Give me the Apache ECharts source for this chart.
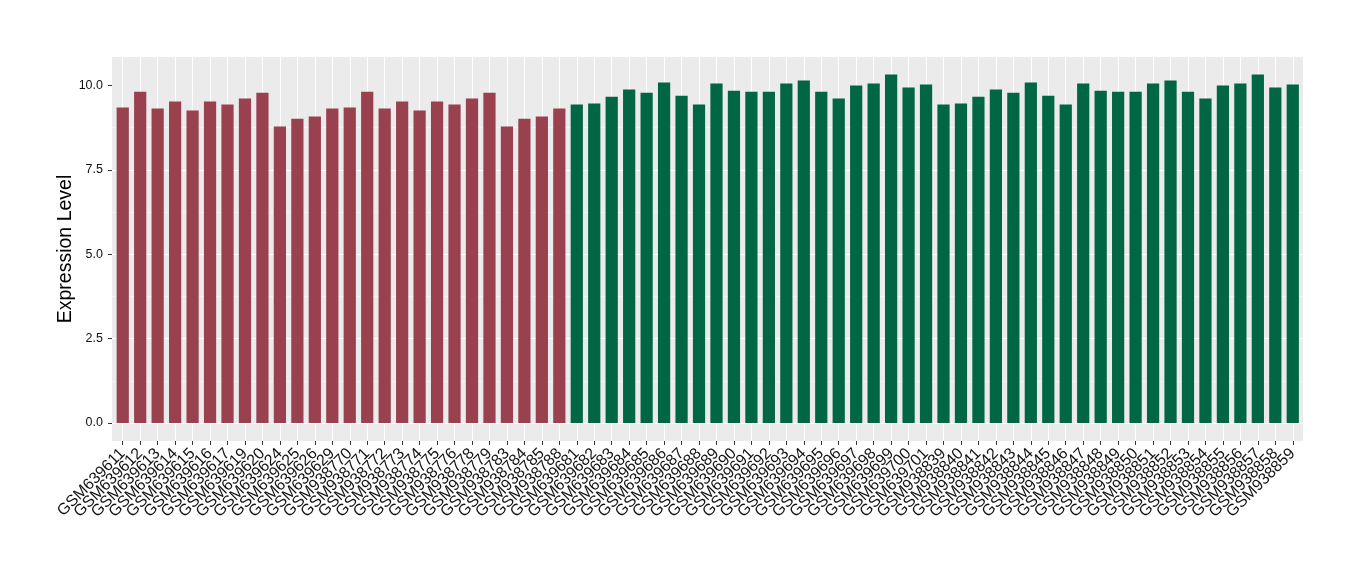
<!DOCTYPE html>
<html>
<head>
<meta charset="utf-8">
<script src="https://cdn.jsdelivr.net/npm/echarts@6/dist/echarts.min.js"></script>
<style>
html,body{margin:0;padding:0;background:#fff;}
#chart{width:1360px;height:580px;}
</style>
</head>
<body>
<div id="chart"></div>
<script>
// ---- data ----
const redSamples = ["GSM639611","GSM639612","GSM639613","GSM639614","GSM639615","GSM639616","GSM639617","GSM639619","GSM639620","GSM639624","GSM639625","GSM639626","GSM639629",
  "GSM938770","GSM938771","GSM938772","GSM938773","GSM938774","GSM938775","GSM938776","GSM938778","GSM938779","GSM938783","GSM938784","GSM938785","GSM938788"];
const redValues = [9.35,9.82,9.32,9.53,9.26,9.53,9.44,9.62,9.79,8.79,9.02,9.08,9.32,
  9.35,9.82,9.32,9.53,9.26,9.53,9.44,9.62,9.79,8.79,9.02,9.08,9.32];
const greenSamples = ["GSM639681","GSM639682","GSM639683","GSM639684","GSM639685","GSM639686","GSM639687","GSM639688","GSM639689","GSM639690","GSM639691","GSM639692","GSM639693","GSM639694","GSM639695","GSM639696","GSM639697","GSM639698","GSM639699","GSM639700","GSM639701",
  "GSM938839","GSM938840","GSM938841","GSM938842","GSM938843","GSM938844","GSM938845","GSM938846","GSM938847","GSM938848","GSM938849","GSM938850","GSM938851","GSM938852","GSM938853","GSM938854","GSM938855","GSM938856","GSM938857","GSM938858","GSM938859"];
const greenValues = [9.44,9.47,9.67,9.88,9.79,10.09,9.70,9.44,10.06,9.85,9.82,9.82,10.06,10.15,9.82,9.62,10.00,10.06,10.33,9.94,10.03,
  9.44,9.47,9.67,9.88,9.79,10.09,9.70,9.44,10.06,9.85,9.82,9.82,10.06,10.15,9.82,9.62,10.00,10.06,10.33,9.94,10.03];
const yTicks = [0, 2.5, 5, 7.5, 10];
const yTitle = "Expression Level";
const redColor = "#9a4150";
const greenColor = "#006644";

// ---- build ----
const categories = redSamples.concat(greenSamples);
const values = redValues.concat(greenValues);
const n = categories.length;
const dataMax = Math.max.apply(null, values);
const yMax = dataMax * 1.05;
const FONT = "Liberation Sans, Arial, Helvetica, sans-serif";

const chart = echarts.init(document.getElementById('chart'), null, {renderer: 'canvas'});
const option = {
  animation: false,
  backgroundColor: '#ffffff',
  textStyle: {fontFamily: FONT},
  grid: [
    {left: 112, right: 57, top: 57, bottom: 139, show: true, backgroundColor: '#ebebeb', borderWidth: 0, containLabel: false},
    {left: 112, right: 57, top: 57, bottom: 157, containLabel: false},
    {left: 114, right: 58.5, top: 57, bottom: 139, containLabel: false},
    {left: 114, right: 58.5, top: 57, bottom: 157, containLabel: false}
  ],
  xAxis: [
    {gridIndex: 0, type: 'category', data: categories, show: false},
    {gridIndex: 1, type: 'value', min: 0, max: 1, show: false},
    {gridIndex: 2, type: 'category', data: categories, position: 'bottom',
      axisLine: {show: false},
      axisTick: {show: true, alignWithLabel: true, length: 4, lineStyle: {color: '#333333', width: 1}},
      axisLabel: {show: true, interval: 0, rotate: 45, fontSize: 16, color: '#111111', margin: 10, fontFamily: FONT},
      splitLine: {show: false}},
    {gridIndex: 2, type: 'value', position: 'top', min: 0, max: 2 * n, interval: 2,
      axisLine: {show: false}, axisTick: {show: false}, axisLabel: {show: false},
      splitLine: {show: false},
      minorTick: {show: false, splitNumber: 2},
      minorSplitLine: {show: true, lineStyle: {color: '#ffffff', width: 1.1}}},
    {gridIndex: 3, type: 'category', data: categories, show: false}
  ],
  yAxis: [
    {gridIndex: 0, type: 'value', min: 0, max: 1, position: 'left',
      name: yTitle, nameLocation: 'middle', nameGap: 36, nameRotate: 90,
      nameTextStyle: {fontSize: 19.5, color: '#000000', fontFamily: FONT},
      axisLine: {show: false}, axisTick: {show: false}, axisLabel: {show: false}, splitLine: {show: false}},
    {gridIndex: 1, type: 'value', min: 0, max: yMax, interval: 1.25, position: 'left',
      axisLine: {show: false}, axisTick: {show: false}, axisLabel: {show: false},
      splitLine: {show: true, showMaxLine: false, lineStyle: {color: ['rgba(0,0,0,0)', '#f6f6f6'], width: 0.8}}},
    {gridIndex: 1, type: 'value', min: 0, max: yMax, interval: 2.5, position: 'left', offset: 0,
      axisLine: {show: false},
      axisTick: {show: true, length: 4, customValues: yTicks, lineStyle: {color: '#333333', width: 1}},
      axisLabel: {show: true, customValues: yTicks, fontSize: 12.5, color: '#111111', margin: 9, fontFamily: FONT,
        formatter: function (v) {
          const k = v / 2.5;
          return Math.abs(k - Math.round(k)) < 1e-6 ? v.toFixed(1) : '';
        }},
      splitLine: {show: true, showMaxLine: false, lineStyle: {color: '#ffffff', width: 1.1}}},
    {gridIndex: 2, type: 'value', min: 0, max: 1, show: false},
    {gridIndex: 3, type: 'value', min: 0, max: yMax, show: false}
  ],
  series: [{
    type: 'bar',
    xAxisIndex: 4,
    yAxisIndex: 4,
    data: values,
    barWidth: '70%',
    itemStyle: {
      color: function (p) { return p.dataIndex < redSamples.length ? redColor : greenColor; }
    }
  }]
};
chart.setOption(option);
</script>
</body>
</html>
